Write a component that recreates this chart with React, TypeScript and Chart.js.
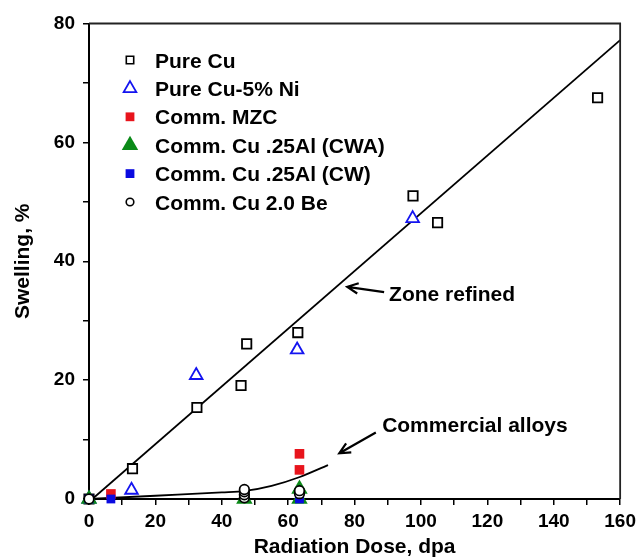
import React, { useEffect, useRef } from 'react';
import { Chart, registerables } from 'chart.js';

Chart.register(...registerables);

const FONT = '"Liberation Sans", Arial, Helvetica, sans-serif';

// Swelling (%) against radiation dose (dpa), one pair of arrays per material
const pureCuDose = [0, 13.1, 32.5, 45.8, 47.5, 62.9, 97.6, 105, 153.2];
const pureCuSwell = [0, 5.1, 15.4, 19.1, 26.1, 28.0, 51.0, 46.5, 67.5];

const cuNiDose = [0, 12.8, 32.3, 62.7, 97.5];
const cuNiSwell = [0, 1.5, 20.8, 25.1, 47.2];

const mzcDose = [6.6, 63.4, 63.4];
const mzcSwell = [0.85, 7.6, 4.9];

const cwaDose = [0, 46.8, 63.4, 63.4];
const cwaSwell = [0, 0, 0, 1.7];

const cwDose = [0, 6.6, 63.4];
const cwSwell = [0, 0, 0];

const beDose = [0, 46.8, 46.8, 46.8, 46.8, 63.4, 63.4];
const beSwell = [0, 0.2, 0.7, 1.2, 1.6, 0.9, 1.4];

// Trend lines
const zoneDose = [1, 160];
const zoneSwell = [0, 77.2];
const commDose = [0, 20, 40, 47, 55, 63.5, 72];
const commSwell = [0, 0.55, 1.1, 1.35, 2.2, 3.7, 5.7];

// Axes
const xMax = 160;
const yMax = 80;
const xLabelStep = 20;
const yLabelStep = 20;

const legendNames = [
  'Pure Cu',
  'Pure Cu-5% Ni',
  'Comm. MZC',
  'Comm. Cu .25Al (CWA)',
  'Comm. Cu .25Al (CW)',
  'Comm. Cu 2.0 Be',
];

const zoneLabel = 'Zone refined';
const commLabel = 'Commercial alloys';

const pts = (xs: number[], ys: number[]) => xs.map((x, i) => ({ x, y: ys[i] }));

type Marker = { style: string; fill: string; stroke: string; r: number; lw: number };

function drawMarker(ctx: CanvasRenderingContext2D, m: Marker, x: number, y: number) {
  ctx.beginPath();
  if (m.style === 'rect') {
    const h = m.r;
    ctx.rect(x - h, y - h, 2 * h, 2 * h);
  } else if (m.style === 'triangle') {
    for (let k = 0; k < 3; k++) {
      const a = (k * 2 * Math.PI) / 3;
      const px = x + Math.sin(a) * m.r;
      const py = y - Math.cos(a) * m.r;
      if (k === 0) ctx.moveTo(px, py);
      else ctx.lineTo(px, py);
    }
    ctx.closePath();
  } else {
    ctx.arc(x, y, m.r, 0, Math.PI * 2);
  }
  ctx.fillStyle = m.fill;
  ctx.fill();
  if (m.lw > 0) {
    ctx.lineWidth = m.lw;
    ctx.strokeStyle = m.stroke;
    ctx.stroke();
  }
}

// Legend markers (half-size for squares, circumradius for triangles/circles)
const legendMarkers: Marker[] = [
  { style: 'rect', fill: '#ffffff', stroke: '#000000', r: 3.7, lw: 1.6 },
  { style: 'triangle', fill: '#ffffff', stroke: '#1414f0', r: 7.3, lw: 1.8 },
  { style: 'rect', fill: '#e8141c', stroke: '#e8141c', r: 4.4, lw: 0 },
  { style: 'triangle', fill: '#0b8a18', stroke: '#0b8a18', r: 9.5, lw: 0 },
  { style: 'rect', fill: '#0a0ae0', stroke: '#0a0ae0', r: 4.4, lw: 0 },
  { style: 'circle', fill: '#ffffff', stroke: '#000000', r: 3.8, lw: 1.6 },
];

function drawArrow(ctx: CanvasRenderingContext2D, x0: number, y0: number, x1: number, y1: number) {
  const ang = Math.atan2(y1 - y0, x1 - x0);
  const len = 12;
  const spread = 0.45;
  ctx.beginPath();
  ctx.moveTo(x0, y0);
  ctx.lineTo(x1, y1);
  ctx.moveTo(x1 - len * Math.cos(ang - spread), y1 - len * Math.sin(ang - spread));
  ctx.lineTo(x1, y1);
  ctx.lineTo(x1 - len * Math.cos(ang + spread), y1 - len * Math.sin(ang + spread));
  ctx.stroke();
}

const overlayPlugin = {
  id: 'overlay',
  afterDatasetsDraw(chart: any) {
    const { ctx, chartArea: a, scales } = chart;
    const sx = scales.x;
    const sy = scales.y;
    ctx.save();

    // top and right frame
    ctx.strokeStyle = '#222';
    ctx.lineWidth = 1.8;
    ctx.beginPath();
    ctx.moveTo(a.left, a.top);
    ctx.lineTo(a.right, a.top);
    ctx.lineTo(a.right, a.bottom);
    ctx.stroke();

    // callouts with arrows (anchored in data units)
    ctx.strokeStyle = '#000';
    ctx.lineWidth = 2.2;
    drawArrow(ctx, sx.getPixelForValue(88.9), sy.getPixelForValue(34.8), sx.getPixelForValue(77.8), sy.getPixelForValue(35.7));
    drawArrow(ctx, sx.getPixelForValue(86.4), sy.getPixelForValue(11.2), sx.getPixelForValue(75.4), sy.getPixelForValue(7.7));

    ctx.fillStyle = '#000';
    ctx.font = `bold 21px ${FONT}`;
    ctx.textAlign = 'left';
    ctx.textBaseline = 'alphabetic';
    ctx.fillText(zoneLabel, sx.getPixelForValue(90.4), sy.getPixelForValue(34.6) + 7.5);
    ctx.fillText(commLabel, sx.getPixelForValue(88.3), sy.getPixelForValue(12.5) + 7.5);

    // legend
    const mx = a.left + 41;
    const tx = a.left + 66;
    const y0 = a.top + 36.5;
    const dy = 28.4;
    legendNames.forEach((name, i) => {
      const yy = y0 + i * dy;
      drawMarker(ctx, legendMarkers[i], mx, yy);
      ctx.fillStyle = '#000';
      ctx.fillText(name, tx, yy + 7.5);
    });

    ctx.restore();
  },
};

export default function App() {
  const ref = useRef<HTMLCanvasElement | null>(null);

  useEffect(() => {
    document.body.style.margin = '0';
    const canvas = ref.current;
    if (!canvas) return;

    const scatter = (label: string, data: any[], m: Marker, order: number) => ({
      type: 'scatter' as const,
      label,
      data,
      pointStyle: m.style,
      pointRadius: m.r,
      pointHoverRadius: m.r,
      pointBackgroundColor: m.fill,
      pointBorderColor: m.stroke,
      pointBorderWidth: m.lw,
      showLine: false,
      clip: false as any,
      order,
    });

    const chart = new Chart(canvas, {
      type: 'scatter',
      data: {
        datasets: [
          {
            type: 'line',
            label: 'zone',
            data: pts(zoneDose, zoneSwell),
            borderColor: '#000',
            borderWidth: 1.8,
            pointRadius: 0,
            fill: false,
            order: 10,
          } as any,
          {
            type: 'line',
            label: 'commercial',
            data: pts(commDose, commSwell),
            borderColor: '#000',
            borderWidth: 1.8,
            pointRadius: 0,
            fill: false,
            cubicInterpolationMode: 'monotone',
            order: 9,
          } as any,
          scatter(legendNames[0], pts(pureCuDose, pureCuSwell), { style: 'rect', fill: '#fff', stroke: '#000', r: 6.6, lw: 1.8 }, 6),
          scatter(legendNames[1], pts(cuNiDose, cuNiSwell), { style: 'triangle', fill: '#fff', stroke: '#1414f0', r: 7.3, lw: 1.8 }, 5),
          scatter(legendNames[2], pts(mzcDose, mzcSwell), { style: 'rect', fill: '#e8141c', stroke: '#e8141c', r: 6.8, lw: 0 }, 4),
          scatter(legendNames[3], pts(cwaDose, cwaSwell), { style: 'triangle', fill: '#0b8a18', stroke: '#0b8a18', r: 9.5, lw: 0 }, 3),
          scatter(legendNames[4], pts(cwDose, cwSwell), { style: 'rect', fill: '#0a0ae0', stroke: '#0a0ae0', r: 6.2, lw: 0 }, 2),
          scatter(legendNames[5], pts(beDose, beSwell), { style: 'circle', fill: '#fff', stroke: '#000', r: 4.8, lw: 1.7 }, 1),
        ] as any,
      },
      options: {
        responsive: false,
        animation: false,
        events: [],
        layout: { padding: { top: 23.5, right: 19, bottom: 0, left: 0 } },
        plugins: {
          legend: { display: false },
          tooltip: { enabled: false },
        },
        scales: {
          x: {
            type: 'linear',
            min: 0,
            max: xMax,
            ticks: {
              stepSize: 10,
              autoSkip: false,
              maxRotation: 0,
              padding: 5,
              color: '#000',
              font: { family: FONT, size: 19, weight: 'bold' },
              callback: (v: any) => (Number(v) % xLabelStep === 0 ? String(v) : ''),
            },
            grid: { drawOnChartArea: false, drawTicks: true, tickLength: 6, color: '#000', lineWidth: 1.5 },
            border: { display: true, color: '#000', width: 2 },
            title: {
              display: true,
              text: 'Radiation Dose, dpa',
              color: '#000',
              font: { family: FONT, size: 21, weight: 'bold' },
              padding: { top: 0, bottom: 0 },
            },
            afterFit: (s: any) => {
              s.height = 61;
            },
          },
          y: {
            type: 'linear',
            min: 0,
            max: yMax,
            ticks: {
              stepSize: 10,
              autoSkip: false,
              padding: 8,
              color: '#000',
              font: { family: FONT, size: 19, weight: 'bold' },
              callback: (v: any) => (Number(v) % yLabelStep === 0 ? String(v) : ''),
            },
            grid: { drawOnChartArea: false, drawTicks: true, tickLength: 6, color: '#000', lineWidth: 1.5 },
            border: { display: true, color: '#000', width: 2 },
            title: {
              display: true,
              text: 'Swelling, %',
              color: '#000',
              font: { family: FONT, size: 21, weight: 'bold' },
              padding: { top: 11, bottom: 0 },
            },
            afterFit: (s: any) => {
              s.width = 89;
            },
          },
        },
      } as any,
      plugins: [overlayPlugin],
    });

    return () => chart.destroy();
  }, []);

  return (
    <div style={{ width: 641, height: 560, background: '#fff' }}>
      <canvas ref={ref} width={641} height={560} style={{ display: 'block' }} />
    </div>
  );
}
